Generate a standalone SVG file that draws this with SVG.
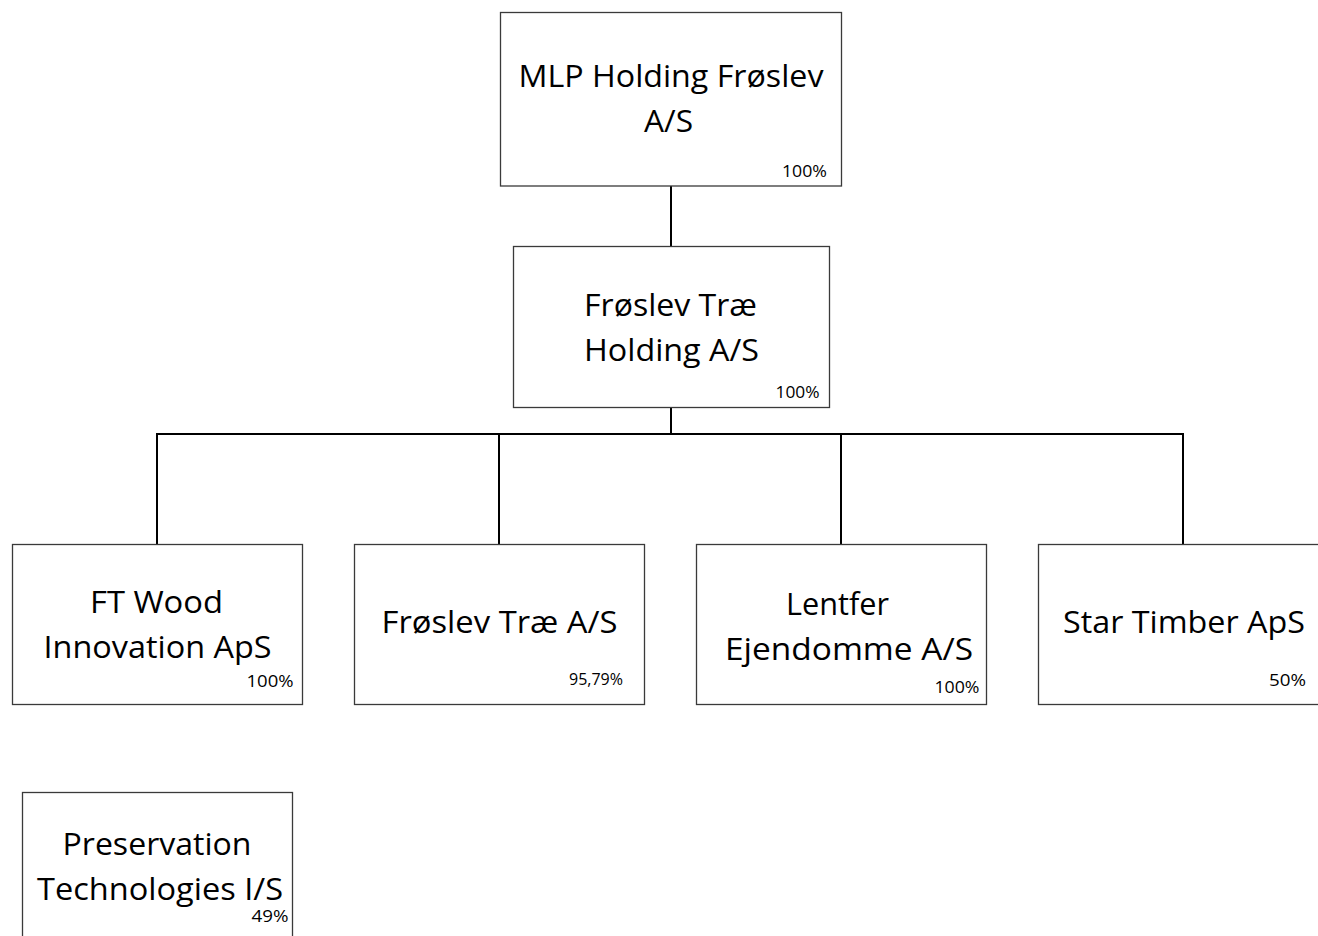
<svg xmlns="http://www.w3.org/2000/svg" width="1318" height="936" viewBox="0 0 1318 936">
<style>
.box{fill:#fff;stroke:#3a3a3a;stroke-width:1.3}
.conn{fill:none;stroke:#000;stroke-width:2}
.t{font-family:"Open Sans","Liberation Sans",sans-serif;font-size:31px;fill:#000;text-anchor:middle}
.p{font-family:"Open Sans","Liberation Sans",sans-serif;font-size:16px;fill:#000;text-anchor:end}
</style>
<rect width="1318" height="936" fill="#fff"/>
<g id="connectors">
<path class="conn" d="M671,186 V246.5 M671,407.5 V434 M157,434 H1183 M157,433 V544.5 M499,434 V544.5 M841,434 V544.5 M1183,433 V544.5"/>
</g>
<g id="mlp">
<rect class="box" x="500.5" y="12.5" width="341" height="173.5"/>
<text class="t" x="671" y="87" textLength="305" lengthAdjust="spacingAndGlyphs">MLP Holding Frøslev</text>
<text class="t" x="668.5" y="132" textLength="49" lengthAdjust="spacingAndGlyphs">A/S</text>
<text class="p" x="827" y="177" textLength="45" lengthAdjust="spacingAndGlyphs">100%</text>
</g>
<g id="froslev-trae-holding">
<rect class="box" x="513.5" y="246.5" width="316" height="161"/>
<text class="t" x="670.5" y="316" textLength="173" lengthAdjust="spacingAndGlyphs">Frøslev Træ</text>
<text class="t" x="671.5" y="361" textLength="175" lengthAdjust="spacingAndGlyphs">Holding A/S</text>
<text class="p" x="819.5" y="397.5" textLength="44" lengthAdjust="spacingAndGlyphs">100%</text>
</g>
<g id="ft-wood">
<rect class="box" x="12.5" y="544.5" width="290" height="160"/>
<text class="t" x="156.5" y="613" textLength="133" lengthAdjust="spacingAndGlyphs">FT Wood</text>
<text class="t" x="157.5" y="658" textLength="228" lengthAdjust="spacingAndGlyphs">Innovation ApS</text>
<text class="p" x="293.5" y="687" textLength="47" lengthAdjust="spacingAndGlyphs">100%</text>
</g>
<g id="froslev-trae">
<rect class="box" x="354.5" y="544.5" width="290" height="160"/>
<text class="t" x="499.5" y="633" textLength="236" lengthAdjust="spacingAndGlyphs">Frøslev Træ A/S</text>
<text class="p" x="623" y="685" textLength="54" lengthAdjust="spacingAndGlyphs">95,79%</text>
</g>
<g id="lentfer">
<rect class="box" x="696.5" y="544.5" width="290" height="160"/>
<text class="t" x="837.5" y="615" textLength="103" lengthAdjust="spacingAndGlyphs">Lentfer</text>
<text class="t" x="849" y="660" textLength="248" lengthAdjust="spacingAndGlyphs">Ejendomme A/S</text>
<text class="p" x="979.5" y="693" textLength="45" lengthAdjust="spacingAndGlyphs">100%</text>
</g>
<g id="star-timber">
<rect class="box" x="1038.5" y="544.5" width="300" height="160"/>
<text class="t" x="1184" y="633" textLength="242" lengthAdjust="spacingAndGlyphs">Star Timber ApS</text>
<text class="p" x="1306" y="686" textLength="37" lengthAdjust="spacingAndGlyphs">50%</text>
</g>
<g id="preservation">
<rect class="box" x="22.5" y="792.5" width="270" height="160"/>
<text class="t" x="157" y="855" textLength="189" lengthAdjust="spacingAndGlyphs">Preservation</text>
<text class="t" x="160" y="900" textLength="246" lengthAdjust="spacingAndGlyphs">Technologies I/S</text>
<text class="p" x="288.5" y="922" textLength="37" lengthAdjust="spacingAndGlyphs">49%</text>
</g>
</svg>
